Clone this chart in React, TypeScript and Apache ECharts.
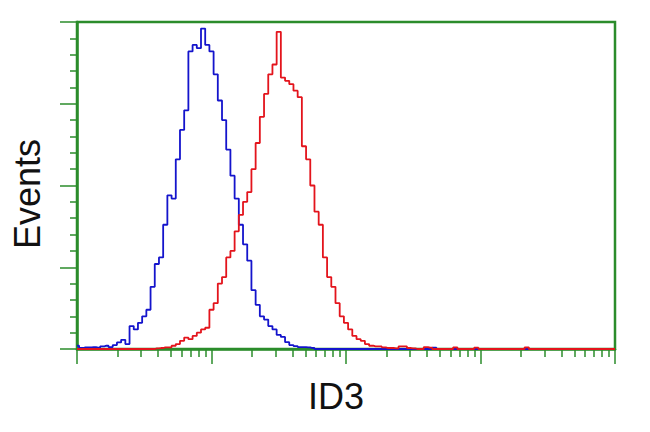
import React, { useEffect, useRef } from "react";
import * as echarts from "echarts";

// channel positions in decades (log10 of intensity), 1/32 decade bins
const channels: number[] = Array.from({ length: 129 }, (_, i) => i / 32);

const blueValues: number[] = [
  1, 0.3, 0.5, 0.5, 0.6, 0.4, 0.8, 1, 0.6, 1.2,
  2, 2.8, 1.5, 7, 6, 8, 10, 12, 19, 26,
  28, 38, 47, 46, 58, 67, 73, 91, 93, 92,
  98, 93, 91, 84, 76, 70, 61, 53, 46, 38,
  32, 27, 18, 13.5, 10, 9, 7, 6, 4.3, 3.7,
  2.1, 1.2, 0.9, 0.6, 0.6, 0.5, 0.3, 0, 0, 0,
  0, 0, 0, 0, 0, 0, 0, 0, 0, 0,
  0, 0, 0, 0, 0, 0, 0, 0, 0, 0,
  0, 0, 0, 0, 0, 0.4, 0, 0, 0, 0,
  0, 0, 0, 0, 0, 0, 0, 0, 0, 0,
  0, 0, 0, 0, 0, 0, 0, 0, 0, 0,
  0, 0, 0, 0, 0, 0, 0, 0, 0, 0,
  0, 0, 0, 0, 0, 0, 0, 0, 0,
];

const redValues: number[] = [
  0, 0, 0, 0, 0, 0, 0, 0, 0, 0,
  0, 0, 0, 0, 0, 0, 0, 0, 0, 0.2,
  0.3, 0.5, 0.5, 1, 1.5, 2.5, 3.5, 3, 4, 5,
  6, 6.5, 12, 14, 20, 22, 28, 30, 36, 41,
  45, 48, 55, 63, 71, 78, 84, 87, 97, 83,
  82, 81, 79, 77, 62, 58, 50, 42, 38, 28,
  22, 19, 14, 10, 8, 6, 4, 3, 2.5, 1.5,
  1, 0.8, 0.8, 0.5, 0.3, 0.3, 0.2, 0.8, 0.8, 0.3,
  0.2, 0, 0, 0.6, 0.4, 0, 0, 0, 0, 0,
  0.5, 0, 0, 0, 0, 0.4, 0, 0, 0, 0,
  0, 0, 0, 0, 0, 0, 0, 0.5, 0, 0,
  0, 0, 0, 0, 0, 0, 0, 0, 0, 0,
  0, 0, 0, 0, 0, 0, 0, 0, 0,
];

const decades = [0, 1, 2, 3];
const minorMultipliers = [2, 3, 4, 5, 6, 7, 8, 9];
const minorTickValues: number[] = decades.flatMap((d) =>
  minorMultipliers.map((m) => d + Math.log10(m))
);

const xTitle = "ID3";
const yTitle = "Events";

const GREEN = "#2b8c2b";

export default function App() {
  const ref = useRef<HTMLDivElement>(null);
  useEffect(() => {
    if (!ref.current) return;
    const chart = echarts.init(ref.current, undefined, { renderer: "svg" });
    chart.setOption({
      animation: false,
      backgroundColor: "#ffffff",
      grid: {
        left: 77,
        right: 35,
        top: 22,
        bottom: 83,
        show: true,
        borderColor: GREEN,
        borderWidth: 2.5,
        backgroundColor: "transparent",
      },
      xAxis: [
        {
          type: "value",
          min: 0,
          max: 4,
          interval: 1,
          axisLine: { show: true, lineStyle: { color: GREEN, width: 2.5 } },
          axisTick: { show: true, length: 15, lineStyle: { color: GREEN, width: 1.5 } },
          axisLabel: { show: false },
          splitLine: { show: false },
        },
        {
          type: "value",
          min: 0,
          max: 4,
          position: "bottom",
          axisLine: { show: false },
          axisTick: {
            show: true,
            length: 8,
            customValues: minorTickValues,
            lineStyle: { color: GREEN, width: 1.5 },
          },
          axisLabel: { show: false },
          splitLine: { show: false },
        },
      ],
      yAxis: {
        type: "value",
        min: 0,
        max: 100,
        interval: 25,
        axisLine: { show: true, lineStyle: { color: GREEN, width: 2.5 } },
        axisTick: { show: true, length: 17, lineStyle: { color: GREEN, width: 1.5 } },
        minorTick: { show: true, splitNumber: 5, length: 7, lineStyle: { color: GREEN, width: 1.5 } },
        axisLabel: { show: false },
        splitLine: { show: false },
      },
      graphic: [
        {
          type: "text",
          x: 27,
          y: 194,
          rotation: Math.PI / 2,
          style: {
            text: yTitle,
            font: "36px 'Liberation Sans', Arial, sans-serif",
            fill: "#111111",
            textAlign: "center",
            textVerticalAlign: "middle",
          },
        },
        {
          type: "text",
          x: 336,
          y: 396,
          style: {
            text: xTitle,
            font: "36px 'Liberation Sans', Arial, sans-serif",
            fill: "#111111",
            textAlign: "center",
            textVerticalAlign: "middle",
          },
        },
      ],
      series: [
        {
          name: "Control",
          type: "line",
          xAxisIndex: 0,
          step: "middle",
          showSymbol: false,
          data: channels.map((c, i) => [c, blueValues[i]]),
          lineStyle: { color: "#1414cc", width: 1.8 },
          itemStyle: { color: "#1414cc" },
          z: 3,
        },
        {
          name: "ID3",
          type: "line",
          xAxisIndex: 0,
          step: "middle",
          showSymbol: false,
          data: channels.map((c, i) => [c, redValues[i]]),
          lineStyle: { color: "#e3141c", width: 1.8 },
          itemStyle: { color: "#e3141c" },
          z: 4,
        },
      ],
    });
    return () => chart.dispose();
  }, []);
  return (
    <div
      ref={ref}
      style={{ position: "fixed", left: 0, top: 0, width: 650, height: 432, background: "#fff" }}
    />
  );
}
